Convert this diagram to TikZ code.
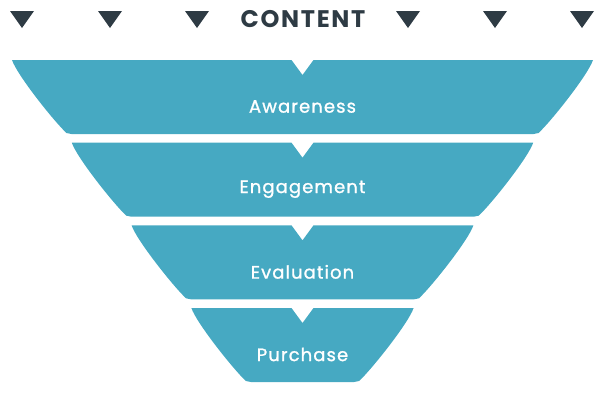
\documentclass[tikz,border=0pt]{standalone}
\usepackage{fontspec}
\setmainfont{Poppins}
\definecolor{teal}{HTML}{46A9C2}
\definecolor{slate}{HTML}{2E3B44}
\tikzset{
  band/.style={fill=teal, draw=none},
  bandlabel/.style={text=white, font=\fontsize{18}{20}\selectfont\addfontfeature{LetterSpace=6,FakeBold=1.2}, anchor=center, inner sep=0pt},
  tri/.style={fill=slate, draw=none},
  title/.style={text=slate, font=\fontsize{24}{27}\selectfont\bfseries\addfontfeature{LetterSpace=7}, anchor=center, inner sep=0pt}
}
\begin{document}
\begin{tikzpicture}[x=1pt,y=-1pt]
\useasboundingbox (0,0) rectangle (602,407);
% title and markers
\node[title] (content) at (303,19) {CONTENT};
\foreach \cx [count=\k] in {22,110,197,408,495,582} {
  \fill[tri] (\cx-12,11) -- (\cx+12,11) -- (\cx,28) -- cycle;
}
% funnel bands
\foreach \i/\lab in {0/Awareness,1/Engagement,2/Evaluation,3/Purchase} {
  \pgfmathsetmacro\bTop{60+82.67*\i}
  \pgfmathsetmacro\bBot{\bTop+74}
  \pgfmathsetmacro\hTop{290.5-59.8*\i}
  \pgfmathsetmacro\hBot{\hTop-57.5}
  \fill[band] ({302.5-\hTop},\bTop) -- (291.5,\bTop) -- (302.5,\bTop+15) -- (313.5,\bTop) -- ({302.5+\hTop},\bTop)
     .. controls ({302.5+\hTop-5},\bTop+15) and ({302.5+\hBot+15},\bBot-12) .. ({302.5+\hBot+3},\bBot-1)
     .. controls ({302.5+\hBot+1},\bBot) .. ({302.5+\hBot-2},\bBot)
     -- ({302.5-\hBot+2},\bBot)
     .. controls ({302.5-\hBot-1},\bBot) .. ({302.5-\hBot-3},\bBot-1)
     .. controls ({302.5-\hBot-15},\bBot-12) and ({302.5-\hTop+5},\bTop+15) .. ({302.5-\hTop},\bTop) -- cycle;
  \node[bandlabel] (lab\i) at (302.5,\bTop+46.5) {\lab};
}
\end{tikzpicture}
\end{document}
